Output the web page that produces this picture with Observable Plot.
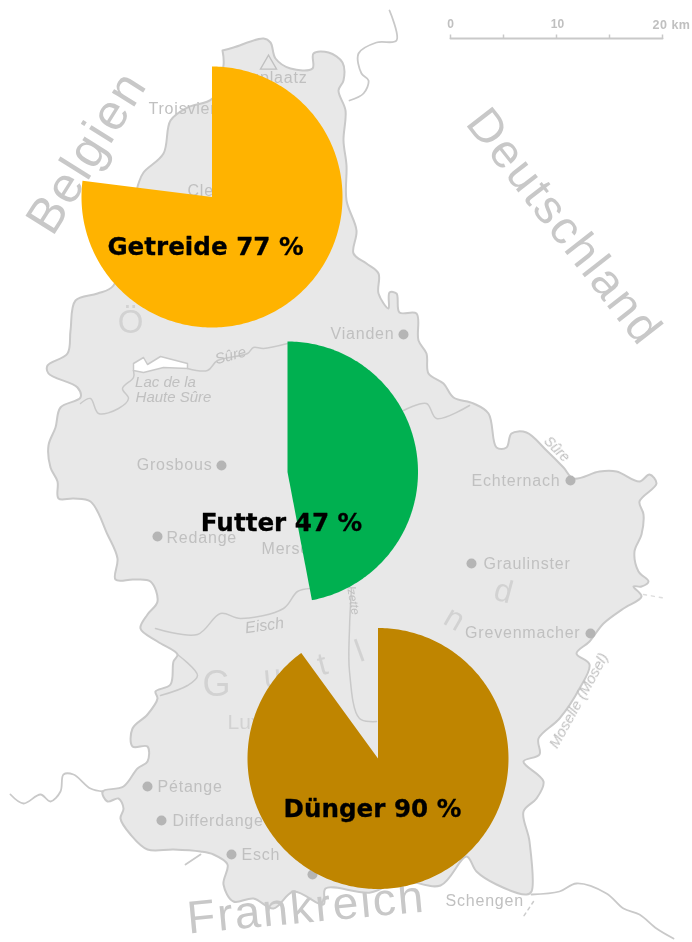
<!DOCTYPE html>
<html>
<head>
<meta charset="utf-8">
<script src="https://cdn.jsdelivr.net/npm/d3@7"></script>
<script src="https://cdn.jsdelivr.net/npm/@observablehq/plot@0.6"></script>
<style>html,body{margin:0;padding:0;background:#fff}svg{display:block}</style>
</head>
<body>
<div id="chart"></div>
<script>
// Shares shown on the map
const crops = ["Getreide", "Futter", "Dünger"];
const shares = [77, 47, 90];
const pieColors = ["#FFB300", "#00B050", "#BF8500"];
const pieCenterX = [211.5, 287, 377.5];
const pieCenterY = [196.5, 471.5, 758];
const labelX = [205, 281, 372];
const labelY = [247, 523, 809];

// Base map (x, y in picture units)
const border = [[222,50],[233,47],[263,38],[270,42],[275,58],[290,68],[312,68],[313,53],[328,52],[342,62],[343,80],[338,90],[345,110],[343,140],[346,165],[346,200],[356,230],[353,253],[366,263],[378,273],[378,293],[388,308],[389,292],[396,293],[399,312],[416,313],[418,340],[426,353],[428,373],[443,383],[453,397],[473,403],[488,413],[496,447],[506,447],[511,433],[526,432],[546,450],[563,467],[573,478],[599,471],[616,471],[639,481],[649,474],[656,483],[639,501],[643,514],[641,534],[634,551],[638,571],[648,581],[641,586],[633,586],[641,596],[623,608],[603,623],[589,641],[576,653],[589,664],[579,688],[559,718],[538,738],[539,754],[523,761],[543,781],[536,798],[523,811],[529,841],[531,891],[526,894],[496,884],[476,871],[466,856],[440,885],[400,880],[370,892],[325,888],[323,904],[293,891],[273,908],[253,898],[233,901],[223,884],[227,864],[213,854],[200,851],[173,849],[147,849],[130,834],[120,818],[123,808],[118,798],[107,801],[102,791],[123,786],[137,768],[147,761],[147,746],[132,746],[132,728],[147,714],[157,698],[155,691],[170,684],[173,661],[177,654],[157,641],[140,628],[147,614],[157,601],[150,581],[133,579],[115,579],[117,558],[107,534],[90,501],[73,498],[58,498],[57,481],[50,467],[48,445],[55,427],[60,407],[80,397],[77,387],[48,373],[47,365],[67,353],[70,330],[75,300],[97,293],[113,285],[138,183],[143,172],[163,153],[170,120],[187,107],[212,98],[223,65]];
const rivers = [
  [[80,403],[90,398],[98,413],[118,408],[128,398],[122,388],[133,377],[133,370]],
  [[187,368],[207,370],[217,360],[247,353],[253,347],[263,348],[287,343]],
  [[403,410],[426,403],[436,418],[469,405]],
  [[155,628],[197,634],[220,613],[240,618],[283,608],[297,591],[310,588]],
  [[351,588],[349,628],[349,671],[359,718],[376,721]],
  [[177,654],[197,675],[187,685],[160,695]]
];
const outerLines = [
  [[349,100],[363,93],[368,80],[361,73],[358,53],[376,42],[396,40],[389,10]],
  [[10,794],[23,803],[40,794],[50,801],[60,791],[63,774],[73,774],[90,788],[103,791]],
  [[185,864],[200,854]],
  [[531,894],[559,891],[576,883],[606,893],[623,908],[639,914],[656,928],[673,938]]
];
const lake = [[133,363],[143,357],[147,364],[160,356],[187,363],[187,368],[163,367],[143,372],[133,370],[133,363]];
const countries = [["Belgien",52,237,-58,50,2],["Deutschland",464,123,52,47,2.2],["Frankreich",188,933,-5.3,46,2.2]];
const towns = [["Vianden",394,333,403,334],["Grosbous",212,464,221,465],["Echternach",560,480,570,480],["Grevenmacher",580,632,590,633]];
const townsRight = [["Redange",166,537,157,536],["Graulinster",483,563,471,563],["Pétange",157,786,147,786],["Differdange",172,820,161,820],["Esch",241,854,231,854]];
const labelsStart = [["Troisvierges",148,108],["Clervaux",187,190],["Mersch",261,548],["Schengen",445,900]];
const labelsEnd = [["Buergplaatz",307,77]];
const waterLabels = [["Lac de la",165,382,0,15],["Haute Sûre",173,397,0,15],["Sûre",230,355,-15,15],["Eisch",264,625,-8,16],["Sûre",556,449,45,14],["Alzette",352,596,80,12],["Moselle (Mosel)",578,700,-61,15]];
const regionLetters = [["Ö",130,322,0,33],["G",216,684,0,36],["u",272,676,-5,32],["t",322,664,-15,32],["l",359,651,-20,32],["n",454,618,30,32],["d",503,591,15,32]];
const regionNames = [["Luxembourg",227,722,0,21]];
const scaleTicks = [0, 5, 10, 15, 20];
const scaleLabels = [["0",450],["10",557]];
const scaleEnd = [["20 km",652]];

const kmX = km => 450 + km * 10.6;
const landGrey = "#e8e8e8", lineGrey = "#c9c9c9", textGrey = "#c0c0c0";
const soft = "blur(0.55px)";
const lineMark = (pts, o = {}) => Plot.line(pts, {x: d => d[0], y: d => d[1], stroke: lineGrey, strokeWidth: 1.8, imageFilter: soft, curve: "catmull-rom", ...o});

// A wedge outline computed from a share: starts at 12 o'clock, runs clockwise
function wedge(i) {
  const R = 130.5, cx = pieCenterX[i], cy = pieCenterY[i];
  const steps = d3.range(0, shares[i] * 3.6, 1).concat(shares[i] * 3.6);
  return [[cx, cy], ...steps.map(a => {
    const t = a * Math.PI / 180;
    return [cx + R * Math.sin(t), cy - R * Math.cos(t)];
  })];
}
const spaced = s => (index, scales, values, dims, ctx, next) => {
  const g = next(index, scales, values, dims, ctx);
  g.style.letterSpacing = s + "px";
  return g;
};
const townStyle = {x: d => d[1], y: d => d[2], text: d => d[0], fontSize: 16, fill: textGrey, imageFilter: soft, render: spaced(0.8)};

const chart = Plot.plot({
  width: 692, height: 942, margin: 0,
  x: {domain: [0, 692], range: [0, 692], axis: null},
  y: {domain: [0, 942], range: [0, 942], axis: null},
  style: {background: "#fff", fontFamily: "Liberation Sans"},
  marks: [
    Plot.line([...border, border[0]], {x: d => d[0], y: d => d[1], fill: landGrey, stroke: lineGrey, strokeWidth: 2, imageFilter: soft, curve: "catmull-rom"}),
    ...rivers.map(r => lineMark(r, {strokeWidth: 1.5})),
    ...outerLines.map(r => lineMark(r)),
    Plot.line(lake, {x: d => d[0], y: d => d[1], fill: "#fff", stroke: lineGrey, strokeWidth: 1.5, imageFilter: soft}),
    Plot.line([[643,594],[666,598]], {x: d => d[0], y: d => d[1], stroke: "#ddd", strokeDasharray: "3,5", strokeWidth: 1.5}),
    Plot.line([[533,901],[523,916]], {x: d => d[0], y: d => d[1], stroke: "#ccc", strokeDasharray: "3,4", strokeWidth: 1.5}),
    Plot.dot([[268,64]], {x: d => d[0], y: d => d[1], symbol: "triangle", r: 6, stroke: textGrey, strokeWidth: 1.3, imageFilter: soft}),
    Plot.dot([...towns, ...townsRight], {x: d => d[3], y: d => d[4], r: 5, fill: "#b5b5b5", imageFilter: soft}),
    Plot.dot([[312,874]], {x: d => d[0], y: d => d[1], r: 5, fill: "#b5b5b5", imageFilter: soft}),
    Plot.text(towns, {...townStyle, textAnchor: "end"}),
    Plot.text(townsRight, {...townStyle, textAnchor: "start"}),
    Plot.text(labelsStart, {...townStyle, textAnchor: "start"}),
    Plot.text(labelsEnd, {...townStyle, textAnchor: "end"}),
    Plot.text(waterLabels, {x: d => d[1], y: d => d[2], text: d => d[0], rotate: d => d[3], fontSize: d => d[4], fontStyle: "italic", fill: textGrey, imageFilter: soft}),
    Plot.text(regionLetters, {x: d => d[1], y: d => d[2], text: d => d[0], rotate: d => d[3], fontSize: d => d[4], fill: "#d2d2d2", imageFilter: soft}),
    Plot.text(regionNames, {x: d => d[1], y: d => d[2], text: d => d[0], fontSize: d => d[4], textAnchor: "start", fill: "#d2d2d2", imageFilter: soft}),
    ...countries.map(c => Plot.text([c], {x: d => d[1], y: d => d[2], text: d => d[0], rotate: d => d[3], fontSize: d => d[4], textAnchor: "start", lineAnchor: "bottom", fill: "#c8c8c8", imageFilter: soft, render: spaced(c[5])})),
    Plot.line([0, 20], {x: kmX, y: () => 38, stroke: lineGrey, strokeWidth: 2}),
    Plot.link(scaleTicks, {x1: kmX, x2: kmX, y1: () => 38, y2: () => 34, stroke: lineGrey, strokeWidth: 1.5}),
    Plot.text(scaleLabels, {x: d => d[1], y: 24, text: d => d[0], fontSize: 12, fontWeight: "bold", fill: textGrey, imageFilter: soft}),
    Plot.text(scaleEnd, {x: d => d[1], y: 24, text: d => d[0], textAnchor: "start", fontSize: 12.5, fontWeight: "bold", fill: textGrey, imageFilter: soft, render: spaced(0.5)}),
    ...crops.map((c, i) => Plot.line(wedge(i), {x: d => d[0], y: d => d[1], fill: pieColors[i], stroke: "none"})),
    Plot.text(crops, {x: (d, i) => labelX[i], y: (d, i) => labelY[i], text: (d, i) => `${d} ${shares[i]} %`, fontFamily: "DejaVu Sans", fontWeight: "bold", fontSize: 24.6, fill: "#000", stroke: "#000", strokeWidth: 0.3})
  ]
});
document.getElementById("chart").append(chart);
</script>
</body>
</html>
